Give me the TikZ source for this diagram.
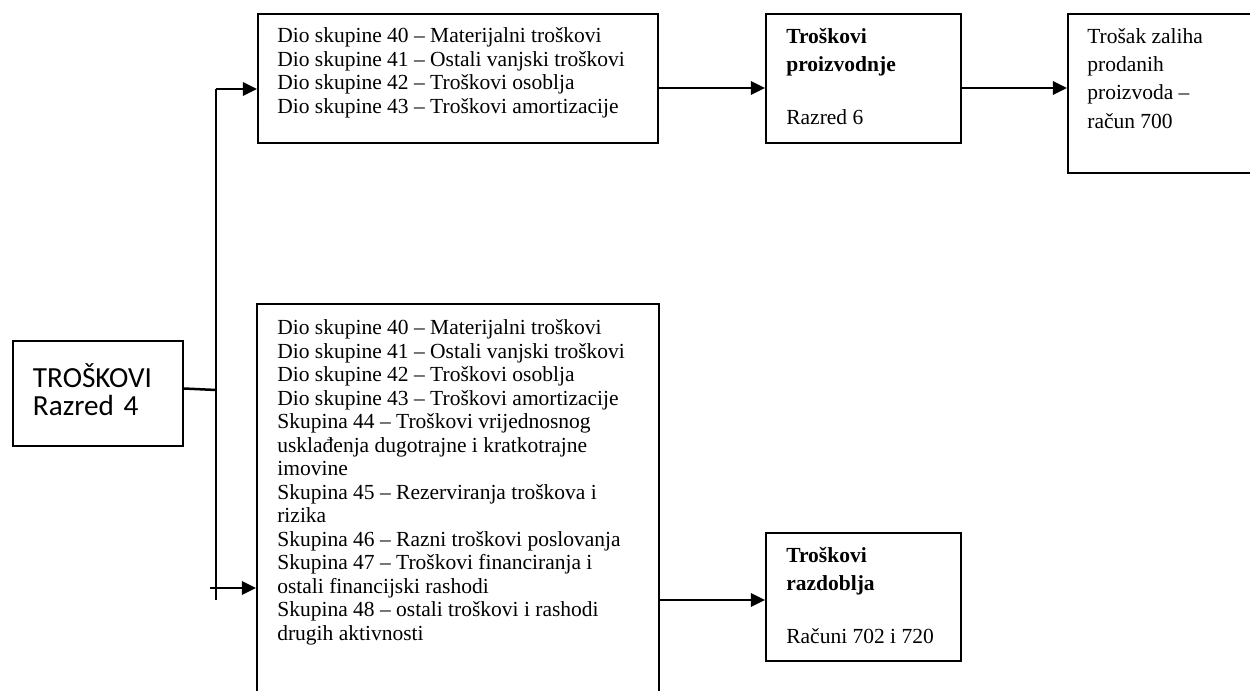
\documentclass[tikz,border=0pt]{standalone}
\usepackage{fontspec}
\setmainfont{Liberation Serif}
\newfontfamily\calib{Carlito}
\usetikzlibrary{positioning}
\usetikzlibrary{arrows.meta}
\tikzset{
	box/.style={
		draw,
		rectangle,
		line width=1.2pt,
		inner sep=0pt,
		anchor=north west
	},
	txt/.style={
		align=left,
		inner sep=0pt,
		anchor=north west,
		font=\fontsize{12.9}{14.1}\selectfont
	},
	wide/.style={
		txt,
		font=\fontsize{12.9}{17}\selectfont
	},
	link/.style={line width=1.5pt, -{Triangle[length=8.5pt,width=8pt]}},
	plain/.style={line width=1.5pt}
}

\begin{document}
\begin{tikzpicture}[x=0.6pt,y=-0.6pt]
				\useasboundingbox (0,0) rectangle (1250,690);
				\clip (0,0) rectangle (1250,690);
				
				\node[box, minimum width=102pt, minimum height=63pt, text width=78pt, inner xsep=12pt, align=left, font=\calib\fontsize{17.5}{16.5}\selectfont] (kat) at (12,340) {TROŠKOVI\\Razred 4\rule[-5pt]{0pt}{0pt}};
				
				\node[box, minimum width=240pt, minimum height=77.4pt] (dioA) at (257,13) {};
				\node[box, minimum width=117pt, minimum height=77.4pt] (proizv) at (765,13) {};
				\node[box, minimum width=125pt, minimum height=95.4pt] (zalihe) at (1067,13) {};
				\node[box, minimum width=241.2pt, minimum height=260pt] (dioB) at (256,303) {};
				\node[box, minimum width=117pt, minimum height=76.8pt] (razd) at (765,532) {};
				
				\node[txt] (dioAtxt) at (277,26) {\strut Dio skupine 40 – Materijalni troškovi\\Dio skupine 41 – Ostali vanjski troškovi\\Dio skupine 42 – Troškovi osoblja\\Dio skupine 43 – Troškovi amortizacije};
				\node[wide] (proizvtxt) at (786,23) {\strut\textbf{Troškovi}\\\textbf{proizvodnje}\\[15pt]Razred 6};
				\node[wide] (zalihetxt) at (1087,23) {\strut Trošak zaliha\\prodanih\\proizvoda –\\račun 700};
				\node[txt] (dioBtxt) at (277,318) {\strut Dio skupine 40 – Materijalni troškovi\\Dio skupine 41 – Ostali vanjski troškovi\\Dio skupine 42 – Troškovi osoblja\\Dio skupine 43 – Troškovi amortizacije\\Skupina 44 – Troškovi vrijednosnog\\usklađenja dugotrajne i kratkotrajne\\imovine\\Skupina 45 – Rezerviranja troškova i\\rizika\\Skupina 46 – Razni troškovi poslovanja\\Skupina 47 – Troškovi financiranja i\\ostali financijski rashodi\\Skupina 48 – ostali troškovi i rashodi\\drugih aktivnosti};
				\node[wide] (razdtxt) at (786,542) {\strut\textbf{Troškovi}\\\textbf{razdoblja}\\[15pt]Računi 702 i 720};
				
				% razvod
				\coordinate (jTop) at (216,89);
				\coordinate (jMid) at (216,390);
				\coordinate (jBot) at (216,600);
				\coordinate (jIn) at (210,588);
				\coordinate (rowA) at (0,88);
				\coordinate (rowB) at (0,600);
				
				\draw[plain] ([yshift=3pt]kat.east) -- (jMid);
				\draw[plain] (jTop) -- (jBot);
				\draw[link] (jTop) -- (jTop -| dioA.west);
				\draw[link] (jIn) -- (jIn -| dioB.west);
				\draw[link] (dioA.east |- rowA) -- (proizv.west |- rowA);
				\draw[link] (proizv.east |- rowA) -- (zalihe.west |- rowA);
				\draw[link] (dioB.east |- rowB) -- (razd.west |- rowB);
			\end{tikzpicture}
\end{document}
